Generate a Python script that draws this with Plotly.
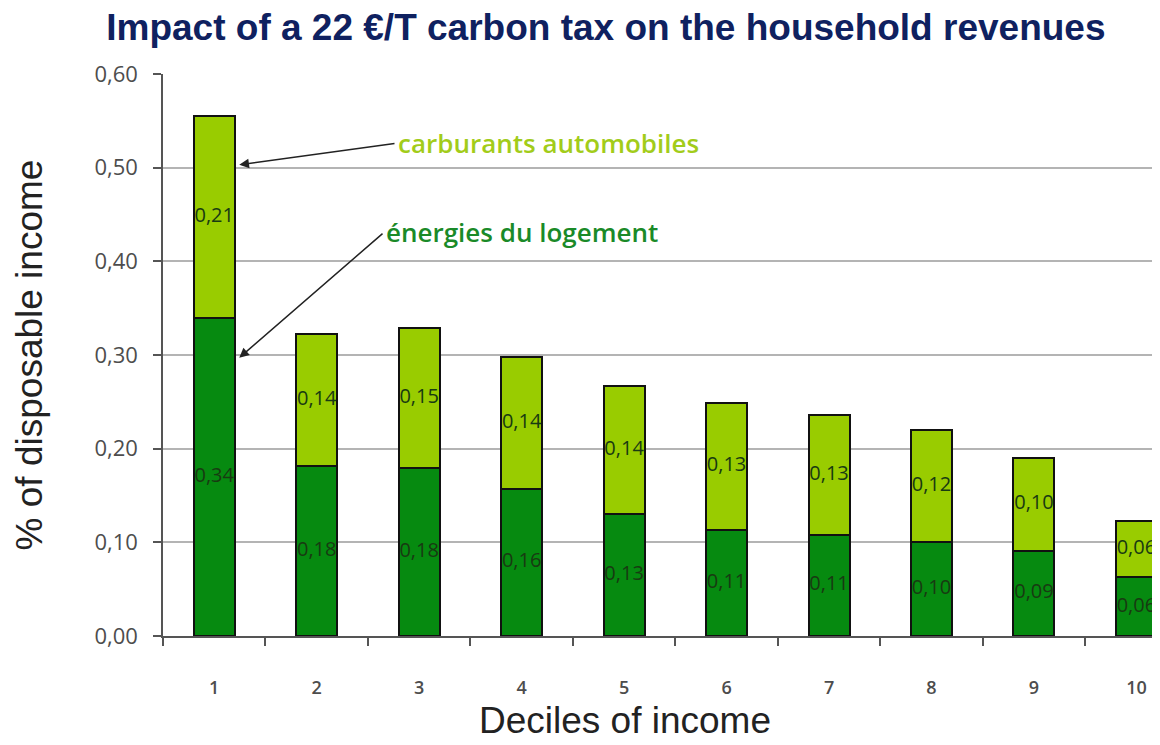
import plotly.graph_objects as go

deciles = ["1", "2", "3", "4", "5", "6", "7", "8", "9", "10"]
logement = [0.340, 0.182, 0.179, 0.157, 0.130, 0.113, 0.108, 0.100, 0.091, 0.063]
carburants = [0.215, 0.140, 0.150, 0.141, 0.137, 0.136, 0.128, 0.120, 0.099, 0.060]
logement_lbl = ["0,34", "0,18", "0,18", "0,16", "0,13", "0,11", "0,11", "0,10", "0,09", "0,06"]
carburants_lbl = ["0,21", "0,14", "0,15", "0,14", "0,14", "0,13", "0,13", "0,12", "0,10", "0,06"]
y_ticks = [0.0, 0.1, 0.2, 0.3, 0.4, 0.5, 0.6]
y_ticktext = ["0,00", "0,10", "0,20", "0,30", "0,40", "0,50", "0,60"]

DARK = "#068a10"
LIGHT = "#99cc00"
HUM = "Open Sans, Noto Sans, sans-serif"
ARIAL = "Liberation Sans, Arial, sans-serif"
LBL_FONT = dict(family=HUM, size=20, color="#183a12")

fig = go.Figure()
fig.add_bar(x=deciles, y=logement, name="énergies du logement", width=0.40,
            marker=dict(color=DARK, line=dict(color="#111111", width=2)))
fig.add_bar(x=deciles, y=carburants, name="carburants automobiles", width=0.40,
            marker=dict(color=LIGHT, line=dict(color="#111111", width=2)))

# segment labels at segment midpoints
fig.add_scatter(x=deciles, y=[v / 2 for v in logement], mode="text", text=logement_lbl,
                textfont=LBL_FONT, showlegend=False, hoverinfo="skip", cliponaxis=True)
fig.add_scatter(x=deciles, y=[a + b / 2 for a, b in zip(logement, carburants)], mode="text",
                text=carburants_lbl, textfont=LBL_FONT, showlegend=False, hoverinfo="skip",
                cliponaxis=True)

fig.update_layout(
    barmode="stack",
    width=1152, height=737,
    margin=dict(l=155, r=0, t=66, b=109, autoexpand=False),
    paper_bgcolor="white", plot_bgcolor="white",
    showlegend=False,
    title=dict(text="<b>Impact of a 22 €/T carbon tax on the household revenues</b>",
               x=0.519, xanchor="center", y=0.974, yanchor="middle",
               font=dict(family=ARIAL, size=37, color="#0f2160")),
    xaxis=dict(type="category", range=[-0.5, 9.23], tickson="boundaries",
               ticks="outside", ticklen=8, tickwidth=1.5, tickcolor="#555555",
               showline=True, linecolor="#555555", linewidth=1.5, showgrid=False,
               tickfont=dict(family=HUM, size=18, color="#4d4d4d", weight=600),
               ticklabelstandoff=35, automargin=False),
    yaxis=dict(range=[0, 0.6], tickvals=y_ticks, ticktext=y_ticktext,
               ticks="outside", ticklen=8, tickwidth=1.5, tickcolor="#555555",
               showline=True, linecolor="#555555", linewidth=1.5,
               showgrid=True, gridcolor="#b4b4b4", gridwidth=1.5, zeroline=False,
               tickfont=dict(family=HUM, size=22, color="#4d4d4d"),
               ticklabelstandoff=11, automargin=False,
               title=dict(text="% of disposable income", standoff=40,
                          font=dict(family=ARIAL, size=37, color="#222222"))),
)

# x axis title (offset left of the plot centre, as in the original)
fig.add_annotation(x=0.4634, y=0, xref="paper", yref="paper", yshift=-107,
                   text="Deciles of income", showarrow=False, xanchor="center", yanchor="bottom",
                   font=dict(family=ARIAL, size=37, color="#222222"))

fig.add_annotation(x=1.774, y=0.526, xref="x", yref="y", text="carburants automobiles",
                   showarrow=False, xanchor="left", yanchor="middle",
                   font=dict(family=HUM, size=26, color="#a2cc1a", weight=600))
fig.add_annotation(x=1.657, y=0.431, xref="x", yref="y", text="énergies du logement",
                   showarrow=False, xanchor="left", yanchor="middle",
                   font=dict(family=HUM, size=26, color="#1a8a28", weight=600))
# arrows
fig.add_annotation(x=0.244, y=0.503, ax=1.774, ay=0.526, xref="x", yref="y", axref="x", ayref="y",
                   text="", showarrow=True, arrowhead=2, arrowsize=1.3, arrowwidth=1.5,
                   arrowcolor="#222222")
fig.add_annotation(x=0.244, y=0.297, ax=1.657, ay=0.431, xref="x", yref="y", axref="x", ayref="y",
                   text="", showarrow=True, arrowhead=2, arrowsize=1.3, arrowwidth=1.5,
                   arrowcolor="#222222")

fig.write_html("out.html")
